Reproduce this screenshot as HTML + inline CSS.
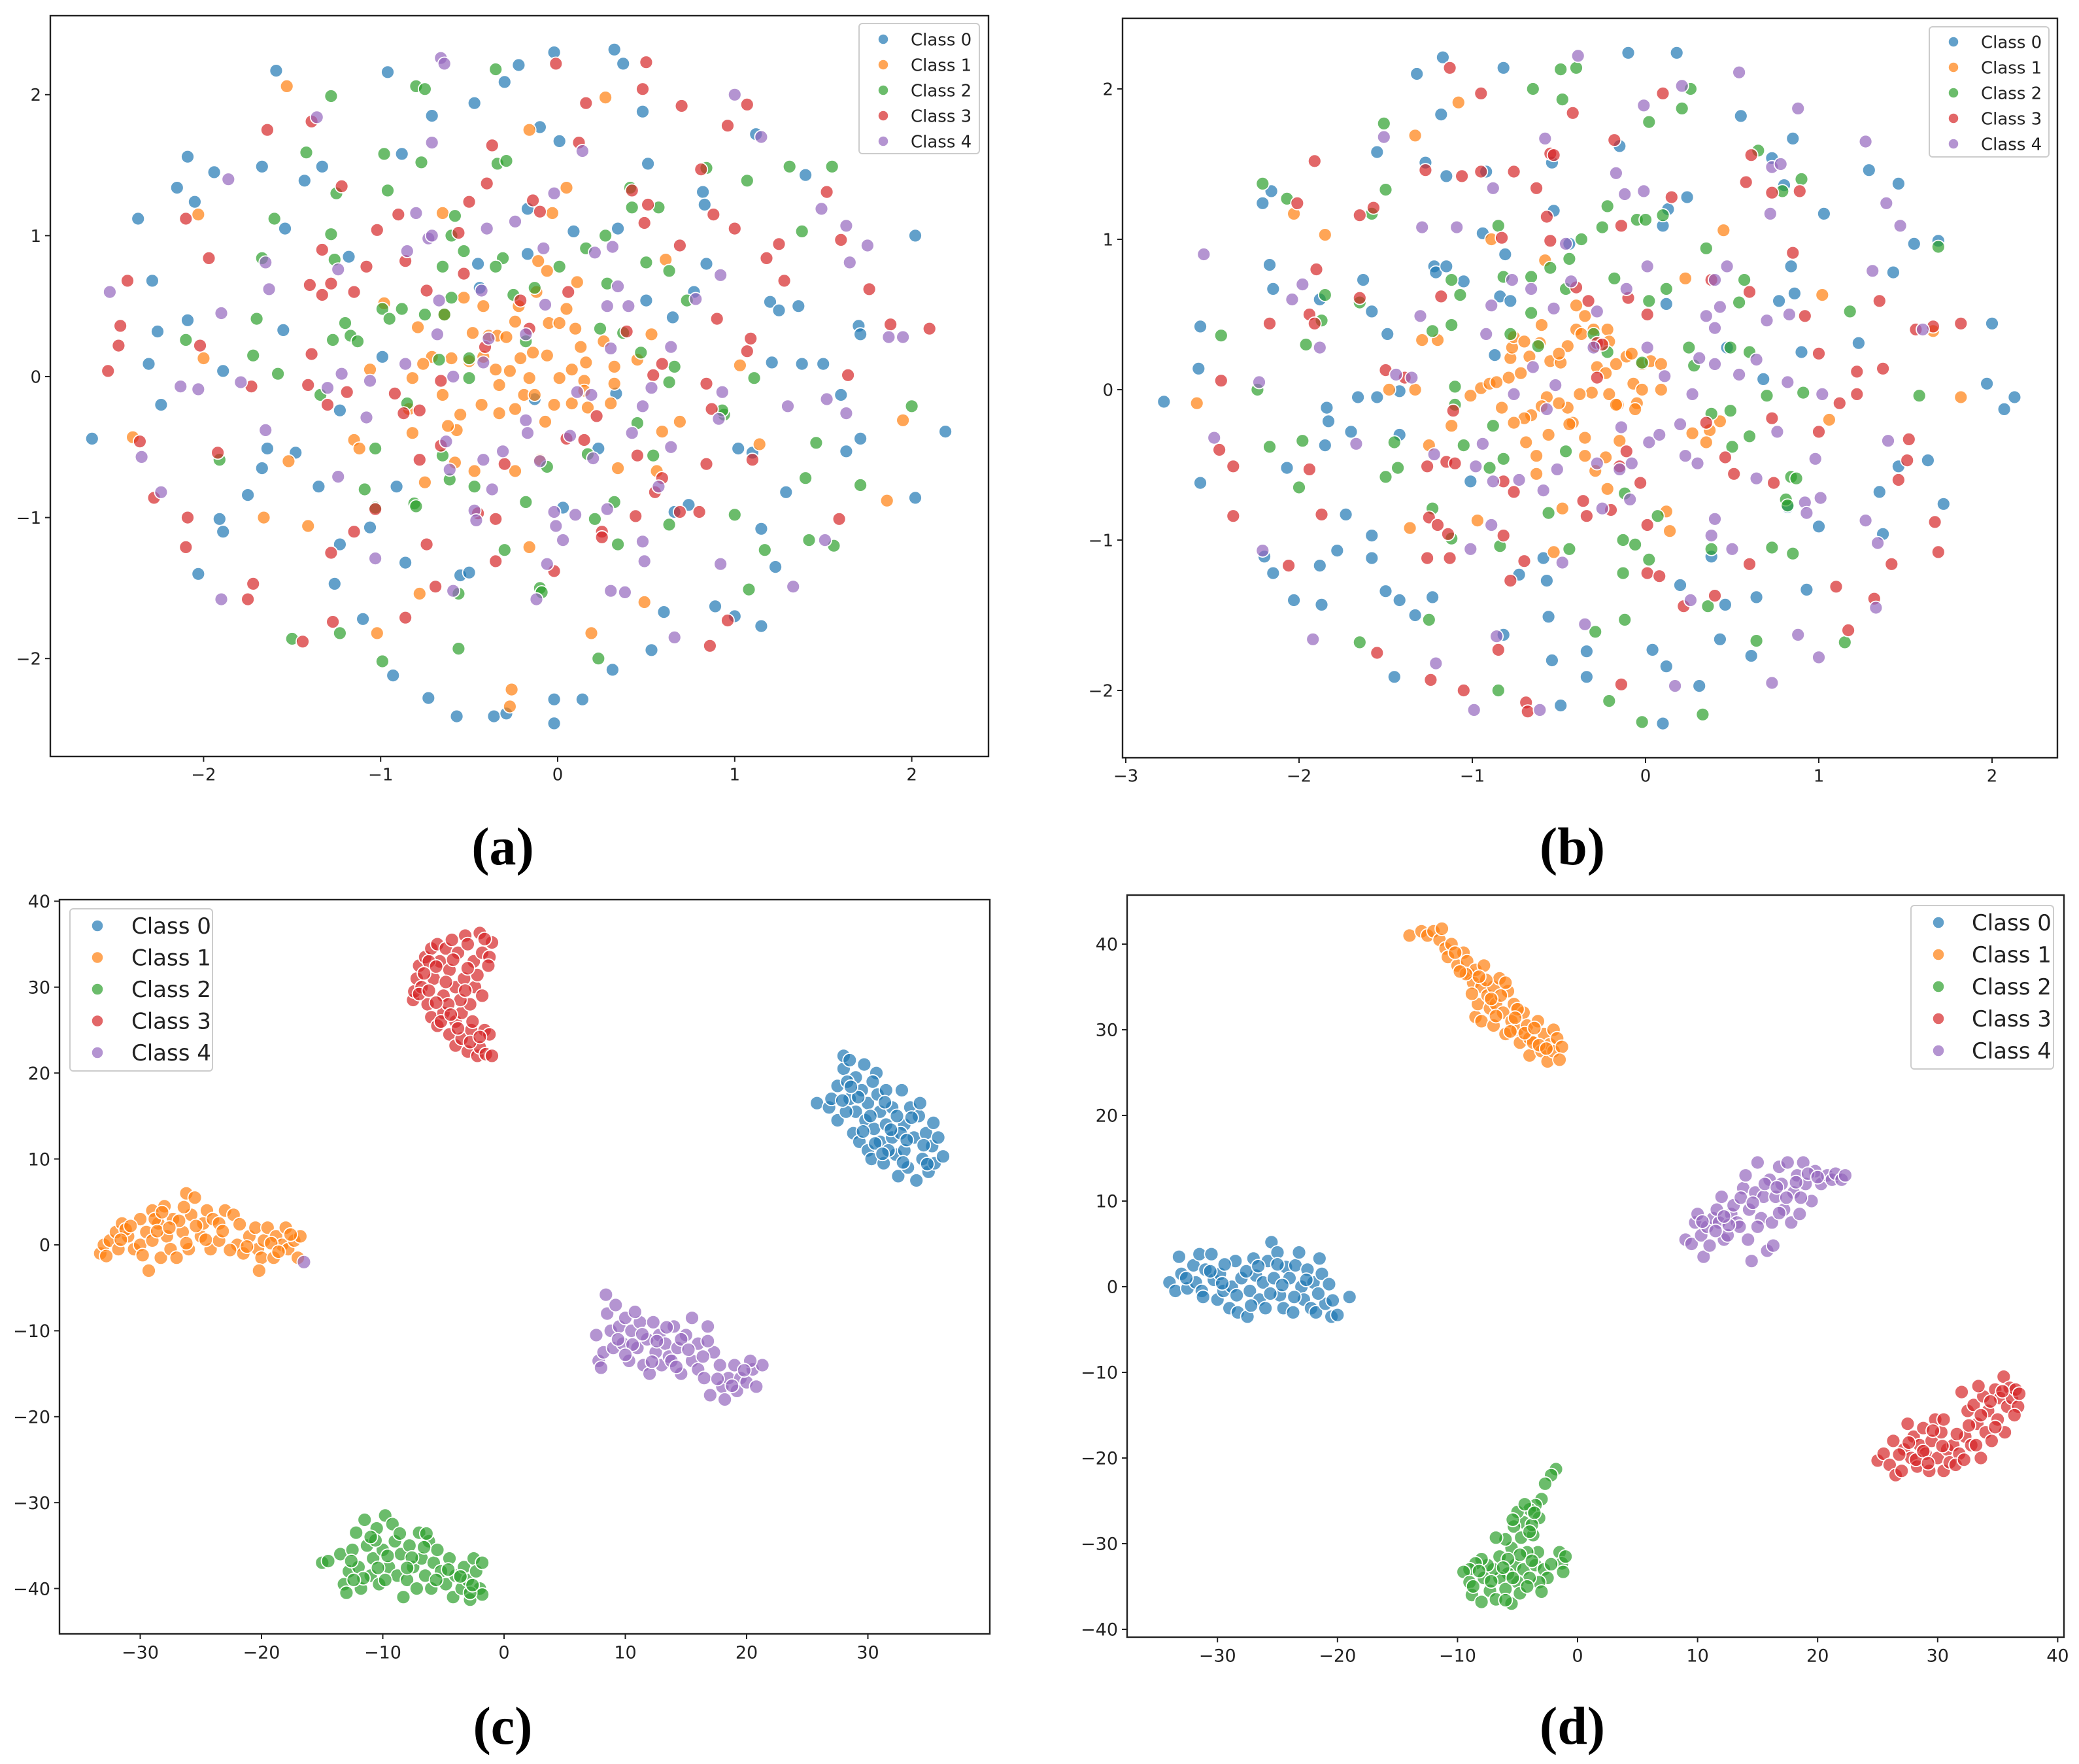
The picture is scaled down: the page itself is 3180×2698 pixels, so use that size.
<!DOCTYPE html>
<html><head><meta charset="utf-8"><style>
html,body{margin:0;padding:0;background:#fff;}
svg{display:block;}
</style></head><body>
<svg id="fig" width="3180" height="2698" viewBox="0 0 3180 2698" xmlns="http://www.w3.org/2000/svg">
<rect width="3180" height="2698" fill="#fff"/>
<text x="769" y="1322" font-family="Liberation Serif, serif" font-size="82" font-weight="bold" text-anchor="middle">(a)</text>
<text x="2405" y="1322" font-family="Liberation Serif, serif" font-size="82" font-weight="bold" text-anchor="middle">(b)</text>
<text x="769" y="2667" font-family="Liberation Serif, serif" font-size="82" font-weight="bold" text-anchor="middle">(c)</text>
<text x="2405" y="2667" font-family="Liberation Serif, serif" font-size="82" font-weight="bold" text-anchor="middle">(d)</text>
</svg>
<script>
const classNames = ["Class 0","Class 1","Class 2","Class 3","Class 4"];
const aTicksX = [-2,-1,0,1,2];
const aTicksY = [-2,-1,0,1,2];
const bTicksX = [-3,-2,-1,0,1,2];
const bTicksY = [-2,-1,0,1,2];
const cTicksX = [-30,-20,-10,0,10,20,30];
const cTicksY = [-40,-30,-20,-10,0,10,20,30,40];
const dTicksX = [-30,-20,-10,0,10,20,30,40];
const dTicksY = [-40,-30,-20,-10,0,10,20,30,40];

const a_class0 = [[-2.63,-0.44],[-2.37,1.12],[-2.29,0.68],[-2.26,0.32],[-2.31,0.09],[-2.24,-0.20],[-2.15,1.34],[-2.09,1.56],[-2.05,1.24],[-2.09,0.40],[-1.94,1.45],[-1.89,0.04],[-2.03,-1.40],[-1.91,-1.01],[-1.89,-1.10],[-1.75,-0.84],[-1.67,-0.65],[-1.64,-0.51],[-1.67,1.49],[-1.59,2.17],[-1.54,1.05],[-1.55,0.33],[-1.48,-0.54],[-1.33,1.49],[-1.43,1.39],[-1.35,-0.78],[-1.23,-0.24],[-1.18,0.85],[-1.26,-1.47],[-1.23,-1.19],[-1.10,-1.72],[-1.06,-1.07],[-0.99,0.14],[-0.96,2.16],[-0.88,1.58],[-0.91,-0.78],[-0.86,-1.32],[-0.93,-2.12],[-0.73,-2.28],[-0.71,1.85],[-0.57,-2.41],[-0.55,-1.41],[-0.50,-1.39],[-0.47,1.94],[-0.45,0.80],[-0.44,0.63],[-0.36,-2.41],[-0.30,2.09],[-0.29,-2.39],[-0.22,2.21],[-0.17,1.19],[-0.17,0.87],[-0.13,-0.16],[-0.10,1.77],[-0.02,2.30],[0.01,1.67],[-0.02,-2.29],[-0.02,-2.46],[0.03,-0.93],[0.09,1.03],[0.14,-2.29],[0.23,-0.51],[0.31,-2.08],[0.32,2.32],[0.33,-0.12],[0.34,1.05],[0.37,2.22],[0.48,1.88],[0.50,0.54],[0.51,1.51],[0.53,-1.94],[0.60,-1.67],[0.65,0.42],[0.66,-0.96],[0.74,-0.91],[0.77,0.60],[0.82,1.31],[0.83,1.22],[0.84,0.80],[0.89,-1.63],[1.00,-1.70],[1.02,-0.51],[1.10,-0.54],[1.15,-1.08],[1.15,-1.77],[1.12,1.72],[1.20,0.53],[1.21,0.10],[1.23,-1.35],[1.25,0.47],[1.29,-0.82],[1.36,0.50],[1.38,0.09],[1.40,1.43],[1.50,0.09],[1.60,-0.13],[1.63,-0.53],[1.70,0.36],[1.71,0.30],[1.71,-0.44],[2.02,1.00],[2.02,-0.86],[2.19,-0.39]];
const a_class1 = [[-1.53,2.06],[-2.03,1.15],[-2.00,0.13],[-2.40,-0.43],[-1.66,-1.00],[-1.41,-1.06],[-1.52,-0.60],[-1.02,-1.82],[-0.78,-1.54],[-0.75,-0.75],[-1.15,-0.45],[-1.12,-0.51],[-0.98,0.52],[-1.06,0.05],[-0.82,-0.01],[-0.79,0.35],[-0.65,1.16],[-0.16,1.75],[-0.03,1.16],[0.05,1.34],[0.27,1.98],[0.19,-1.82],[-0.26,-2.22],[-0.27,-2.34],[-0.16,-1.21],[0.49,-1.60],[0.34,-0.65],[0.56,-0.67],[0.69,-0.32],[0.59,-0.39],[0.61,0.83],[0.53,0.30],[0.45,0.12],[1.03,0.08],[1.14,-0.48],[1.95,-0.31],[1.86,-0.88],[0.11,0.67],[-0.11,0.82],[-0.06,0.75],[-0.71,0.14],[-0.64,0.44],[-0.53,0.56],[-0.48,0.31],[-0.42,0.50],[-0.39,0.29],[-0.34,0.29],[-0.29,0.28],[-0.24,0.39],[-0.22,0.50],[-0.12,0.60],[-0.05,0.38],[0.01,0.38],[0.05,0.48],[0.10,0.34],[0.13,0.21],[0.16,0.10],[0.26,0.25],[0.32,0.07],[0.15,-0.03],[0.08,0.05],[0.01,-0.01],[-0.06,0.15],[-0.14,0.17],[-0.21,0.13],[-0.27,0.04],[-0.35,0.05],[-0.42,0.14],[-0.50,0.11],[-0.60,0.13],[-0.76,0.09],[-0.65,-0.13],[-0.55,-0.27],[-0.57,-0.38],[-0.62,-0.35],[-0.43,-0.20],[-0.33,-0.26],[-0.24,-0.23],[-0.19,-0.13],[-0.13,-0.13],[-0.07,-0.32],[-0.02,-0.20],[0.08,-0.19],[0.17,-0.22],[0.15,-0.10],[0.32,-0.05],[0.30,-0.19],[-0.82,-0.40],[-0.84,-0.23],[-0.47,-0.67],[-0.24,-0.67],[-0.58,-0.61],[-0.10,-0.59],[-0.33,-0.06],[-0.16,-0.01]];
const a_class2 = [[-1.28,1.99],[-1.42,1.59],[-1.25,1.30],[-1.60,1.12],[-1.28,1.01],[-1.26,0.83],[-1.67,0.84],[-1.70,0.41],[-2.10,0.26],[-1.72,0.15],[-1.58,0.02],[-1.91,-0.59],[-1.34,-0.13],[-1.27,0.26],[-1.17,0.29],[-1.20,0.38],[-1.13,0.25],[-1.03,-0.51],[-1.09,-0.80],[-1.03,-0.93],[-1.23,-1.82],[-1.50,-1.86],[-0.99,-2.02],[-0.98,1.58],[-0.96,1.32],[-0.99,0.48],[-0.95,0.41],[-0.88,0.48],[-0.80,2.06],[-0.75,2.04],[-0.77,1.52],[-0.85,-0.19],[-0.81,-0.90],[-0.80,-0.92],[-0.65,-0.56],[-0.61,-0.73],[-0.56,-1.93],[-0.56,-1.54],[-0.58,1.14],[-0.60,1.00],[-0.53,0.89],[-0.65,0.78],[-0.60,0.56],[-0.64,0.44],[-0.75,0.44],[-0.67,0.12],[-0.50,0.13],[-0.50,-0.01],[-0.47,-0.78],[-0.35,2.18],[-0.34,1.51],[-0.29,1.53],[-0.31,0.84],[-0.35,0.78],[-0.25,0.58],[-0.13,0.63],[-0.18,0.25],[-0.18,-0.89],[-0.30,-1.23],[-0.10,-1.50],[-0.09,-1.53],[-0.06,-0.64],[0.01,0.78],[0.16,0.91],[0.27,1.00],[0.24,0.34],[0.17,-0.55],[0.21,-1.01],[0.23,-2.00],[0.34,-1.19],[0.32,-0.89],[0.42,1.20],[0.41,1.34],[0.28,0.66],[0.37,0.31],[0.47,0.17],[0.45,-0.33],[0.50,0.81],[0.57,1.20],[0.63,0.75],[0.66,0.07],[0.63,-0.04],[0.54,-0.56],[0.63,-1.05],[0.73,0.54],[0.84,1.48],[0.94,-0.27],[0.93,-0.24],[1.11,-0.01],[1.00,-0.98],[1.07,1.39],[1.08,-1.51],[1.17,-1.23],[1.31,1.49],[1.38,1.03],[1.42,-1.16],[1.46,-0.47],[1.55,1.49],[1.56,-1.20],[1.40,-0.72],[1.71,-0.77],[2.00,-0.21]];
const a_class3 = [[-2.54,0.04],[-2.48,0.22],[-2.47,0.36],[-2.43,0.68],[-2.36,-0.46],[-2.28,-0.86],[-2.10,1.12],[-1.97,0.84],[-2.02,0.22],[-2.09,-1.00],[-2.10,-1.21],[-1.92,-0.54],[-1.73,-0.07],[-1.72,-1.47],[-1.75,-1.58],[-1.64,1.75],[-1.39,1.81],[-1.40,0.65],[-1.39,0.16],[-1.41,-0.06],[-1.44,-1.88],[-1.33,0.90],[-1.33,0.58],[-1.28,0.66],[-1.22,1.35],[-1.15,0.60],[-1.19,-0.11],[-1.30,-0.20],[-1.28,-1.25],[-1.27,-1.74],[-1.15,-1.10],[-1.08,0.78],[-1.03,-0.94],[-1.02,1.04],[-0.92,-0.12],[-0.90,1.15],[-0.87,-0.26],[-0.86,-1.71],[-0.86,0.82],[-0.78,-0.24],[-0.78,-0.59],[-0.74,0.61],[-0.74,-1.19],[-0.69,-1.49],[-0.66,-0.03],[-0.66,-0.49],[-0.56,1.02],[-0.53,0.73],[-0.50,1.24],[-0.45,-0.97],[-0.41,0.21],[-0.40,1.37],[-0.37,1.64],[-0.35,-1.31],[-0.35,-1.01],[-0.30,-0.62],[-0.21,0.54],[-0.16,0.34],[-0.14,1.25],[-0.10,1.17],[-0.02,-1.38],[-0.01,2.22],[0.06,0.60],[0.05,-0.44],[0.12,1.66],[0.16,1.94],[0.15,-0.45],[0.22,-0.28],[0.25,-1.10],[0.25,-1.14],[0.39,0.32],[0.42,1.32],[0.44,-0.99],[0.45,-0.56],[0.48,2.04],[0.50,2.23],[0.49,1.09],[0.51,1.22],[0.54,0.01],[0.59,0.09],[0.59,-0.72],[0.55,-0.82],[0.69,0.93],[0.70,1.92],[0.69,-0.96],[0.80,-0.96],[0.81,1.47],[0.84,-0.05],[0.84,-0.62],[0.86,-1.91],[0.87,-0.23],[0.88,1.15],[0.90,0.41],[0.96,-1.73],[0.96,1.78],[1.00,1.05],[1.07,1.93],[1.09,0.27],[1.07,0.18],[1.10,-0.59],[1.18,0.84],[1.25,0.94],[1.28,0.68],[1.52,1.31],[1.60,0.97],[1.59,-1.01],[1.64,0.01],[1.76,0.62],[1.88,0.37],[2.10,0.34]];
const a_class4 = [[-2.53,0.60],[-2.35,-0.57],[-2.24,-0.82],[-2.13,-0.07],[-2.03,-0.09],[-1.90,0.45],[-1.90,-1.58],[-1.86,1.40],[-1.79,-0.04],[-1.65,-0.38],[-1.63,0.62],[-1.65,0.81],[-1.36,1.84],[-1.30,-0.08],[-1.24,0.76],[-1.24,-0.71],[-1.22,0.02],[-1.08,-0.29],[-1.06,-0.03],[-1.03,-1.29],[-0.86,0.09],[-0.85,0.89],[-0.80,1.16],[-0.73,0.98],[-0.71,1.00],[-0.71,1.66],[-0.68,0.30],[-0.67,0.54],[-0.66,2.26],[-0.64,2.22],[-0.59,0.00],[-0.63,-0.46],[-0.61,-0.66],[-0.59,-1.52],[-0.47,-0.95],[-0.46,-1.02],[-0.43,0.61],[-0.42,0.10],[-0.42,-0.59],[-0.40,1.05],[-0.39,0.27],[-0.37,-0.80],[-0.31,-0.53],[-0.24,1.10],[-0.18,-0.31],[-0.18,0.30],[-0.17,-0.40],[-0.12,-1.58],[-0.10,-0.60],[-0.08,0.91],[-0.07,0.51],[-0.06,-1.33],[-0.02,-0.96],[-0.02,1.30],[-0.01,-1.06],[0.03,-1.16],[0.07,-0.42],[0.10,-0.98],[0.11,-0.11],[0.14,1.60],[0.19,-0.13],[0.20,-0.58],[0.21,0.88],[0.28,0.50],[0.28,-0.94],[0.30,0.20],[0.30,-1.52],[0.31,0.92],[0.34,0.64],[0.38,-1.53],[0.40,0.50],[0.42,-0.40],[0.48,-0.21],[0.48,-1.17],[0.49,-1.31],[0.53,-0.08],[0.57,-0.78],[0.64,0.21],[0.64,-0.50],[0.66,-1.85],[0.78,0.55],[0.91,-0.30],[0.92,-1.33],[0.92,0.72],[0.93,-0.11],[1.00,2.00],[1.15,1.70],[1.30,-0.21],[1.33,-1.49],[1.49,1.19],[1.51,-1.16],[1.52,-0.16],[1.63,1.07],[1.63,-0.26],[1.65,0.81],[1.75,0.93],[1.87,0.28],[1.95,0.28]];

const b_class0 = [[-2.78,-0.08],[-2.58,0.14],[-2.57,0.42],[-2.57,-0.62],[-2.21,1.24],[-2.16,1.32],[-2.17,0.83],[-2.15,0.67],[-2.15,-1.22],[-2.20,-1.11],[-2.07,-0.52],[-2.03,-1.40],[-1.88,0.60],[-1.87,-1.43],[-1.88,-1.17],[-1.84,-0.12],[-1.83,-0.21],[-1.85,-0.37],[-1.78,-1.07],[-1.73,-0.83],[-1.70,-0.28],[-1.66,-0.05],[-1.63,0.73],[-1.58,0.52],[-1.55,1.58],[-1.55,-0.05],[-1.58,-0.97],[-1.58,-1.12],[-1.50,-1.34],[-1.49,0.37],[-1.45,-1.91],[-1.42,-0.30],[-1.42,-0.01],[-1.42,-1.40],[-1.33,-1.50],[-1.32,2.10],[-1.27,1.51],[-1.23,-1.38],[-1.22,0.82],[-1.21,0.78],[-1.18,1.83],[-1.17,2.21],[-1.15,1.42],[-1.15,0.82],[-1.05,0.72],[-1.01,-0.61],[-0.94,1.04],[-0.92,1.45],[-0.87,0.23],[-0.84,0.62],[-0.82,2.14],[-0.81,0.90],[-0.78,0.59],[-0.82,-1.63],[-0.73,-1.23],[-0.59,-1.12],[-0.57,-1.27],[-0.56,-1.51],[-0.54,-1.80],[-0.54,1.51],[-0.53,1.19],[-0.49,-2.10],[-0.34,-1.74],[-0.34,-1.91],[-0.44,0.97],[-0.15,1.62],[-0.10,2.24],[0.04,-1.73],[0.10,-2.22],[0.10,1.09],[0.12,0.57],[0.12,-1.84],[0.13,1.20],[0.18,2.24],[0.20,-1.30],[0.24,1.28],[0.31,-1.97],[0.38,-1.11],[0.43,-1.66],[0.46,-1.43],[0.47,0.28],[0.55,1.82],[0.61,-1.77],[0.64,-1.38],[0.68,0.07],[0.73,1.54],[0.77,0.59],[0.80,1.36],[0.82,-0.78],[0.84,0.82],[0.85,1.67],[0.86,0.64],[0.90,0.25],[0.93,-1.33],[1.00,-0.91],[1.03,1.17],[1.23,0.31],[1.29,1.46],[1.35,-0.68],[1.37,-0.96],[1.43,0.78],[1.46,1.37],[1.46,-0.51],[1.55,0.97],[1.63,-0.47],[1.69,0.99],[1.72,-0.76],[1.97,0.04],[2.00,0.44],[2.07,-0.13],[2.13,-0.05]];
const b_class1 = [[-2.59,-0.09],[-2.03,1.17],[-1.85,1.03],[-1.33,1.69],[-1.08,1.91],[-1.29,0.33],[-1.20,0.33],[-1.48,0.00],[-1.33,0.00],[-1.25,-0.37],[-1.36,-0.92],[-0.97,-0.87],[-0.89,1.00],[-0.58,0.86],[-0.60,0.43],[-0.53,-1.08],[-0.48,-0.79],[0.14,-0.94],[0.12,-0.81],[0.23,0.74],[0.45,1.06],[1.02,0.63],[1.06,-0.20],[1.66,0.39],[1.82,-0.05],[0.43,-0.21],[0.37,-0.27],[0.27,-0.29],[0.35,-0.35],[-1.01,-0.04],[-0.95,0.01],[-0.90,0.04],[-0.86,0.05],[-0.79,0.08],[-0.72,0.11],[-0.67,0.22],[-0.78,0.21],[-0.77,0.28],[-0.76,0.35],[-0.70,0.32],[-0.61,0.31],[-0.55,0.19],[-0.49,0.18],[-0.45,0.29],[-0.40,0.40],[-0.37,0.37],[-0.40,0.56],[-0.30,0.40],[-0.22,0.40],[-0.21,0.32],[-0.28,0.15],[-0.23,0.11],[-0.17,0.17],[-0.11,0.22],[-0.07,0.04],[-0.02,0.17],[0.03,0.19],[0.09,0.17],[0.09,0.00],[-0.02,0.00],[-0.05,-0.09],[-0.16,-0.10],[-0.21,-0.03],[-0.31,-0.02],[-0.38,-0.03],[-0.45,-0.12],[-0.50,-0.09],[-0.57,-0.05],[-0.60,-0.11],[-0.66,-0.17],[-0.70,-0.19],[-0.76,-0.22],[-0.83,-0.12],[-1.12,-0.24],[-0.69,-0.35],[-0.63,-0.44],[-0.56,-0.30],[-0.42,-0.22],[-0.35,-0.32],[-0.35,-0.44],[-0.23,-0.45],[-0.29,-0.54],[-0.22,-0.66],[-0.17,-0.10],[-0.06,-0.13],[-0.15,-0.34],[-0.63,-0.56],[-0.44,-0.23],[-0.29,0.29],[-0.50,0.24],[-0.35,0.49],[-0.08,0.24]];
const b_class2 = [[-2.21,1.37],[-2.07,1.27],[-2.45,0.36],[-2.24,0.00],[-2.17,-0.38],[-2.00,-0.65],[-1.96,0.30],[-1.98,-0.34],[-1.87,0.46],[-1.85,0.63],[-1.65,-1.68],[-1.65,0.58],[-1.58,1.17],[-1.51,1.77],[-1.50,1.33],[-1.50,-0.58],[-1.43,-0.52],[-1.45,-0.35],[-1.25,-1.53],[-1.23,-0.79],[-1.23,0.39],[-1.12,0.43],[-1.12,0.73],[-1.10,0.02],[-1.10,-0.10],[-1.07,0.63],[-1.05,-0.37],[-1.12,-0.99],[-0.90,-0.52],[-0.88,-0.24],[-0.85,1.09],[-0.82,0.75],[-0.84,-1.04],[-0.82,-0.46],[-0.85,-2.00],[-0.78,0.37],[-0.66,0.51],[-0.66,0.75],[-0.65,2.00],[-0.62,0.29],[-0.56,-0.82],[-0.55,0.81],[-0.49,2.13],[-0.48,1.93],[-0.46,-0.41],[-0.44,0.87],[-0.44,-1.06],[-0.40,2.14],[-0.37,1.00],[-0.46,0.67],[-0.30,0.37],[-0.29,-1.61],[-0.25,1.08],[-0.22,1.22],[-0.22,0.25],[-0.21,-2.07],[-0.18,0.74],[-0.13,-1.00],[-0.13,-1.22],[-0.12,-1.53],[-0.12,-0.69],[-0.06,-1.03],[-0.05,1.13],[-0.02,0.18],[-0.02,-2.21],[0.00,1.13],[0.02,1.78],[0.02,0.59],[0.02,-1.13],[0.07,-0.84],[0.10,1.16],[0.12,0.67],[0.21,1.87],[0.25,0.28],[0.26,2.00],[0.28,0.16],[0.33,-2.16],[0.35,0.94],[0.38,-1.06],[0.38,-0.16],[0.49,0.28],[0.49,-0.14],[0.50,-0.38],[0.54,0.58],[0.57,0.73],[0.60,0.25],[0.60,-0.31],[0.64,-1.67],[0.65,1.59],[0.70,-0.04],[0.73,-1.05],[0.79,1.32],[0.81,-0.73],[0.82,-0.77],[0.84,-0.58],[0.85,-1.09],[0.87,-0.59],[0.90,1.40],[0.91,-0.02],[1.15,-1.68],[1.18,0.52],[1.58,-0.04],[1.69,0.95],[0.36,-1.44]];
const b_class3 = [[-2.45,0.06],[-2.46,-0.40],[-2.38,-0.51],[-2.38,-0.84],[-2.17,0.44],[-2.06,-1.17],[-2.01,1.24],[-1.94,-0.53],[-1.94,0.50],[-1.91,1.52],[-1.91,0.44],[-1.90,0.80],[-1.87,-0.83],[-1.65,1.16],[-1.65,0.61],[-1.57,1.21],[-1.55,-1.75],[-1.50,0.13],[-1.39,0.08],[-1.27,1.46],[-1.26,-0.51],[-1.25,-0.85],[-1.26,-1.12],[-1.24,-1.93],[-1.20,-0.90],[-1.18,0.62],[-1.15,-0.48],[-1.14,-0.96],[-1.13,-1.12],[-1.13,2.14],[-1.11,-0.14],[-1.10,-0.49],[-1.06,1.42],[-1.05,-2.00],[-0.95,1.97],[-0.95,1.45],[-0.85,-1.73],[-0.83,1.01],[-0.82,-0.61],[-0.82,-0.97],[-0.78,-1.27],[-0.76,1.45],[-0.76,-0.68],[-0.70,-1.14],[-0.69,-2.08],[-0.68,-2.14],[-0.63,1.34],[-0.57,1.15],[-0.55,0.99],[-0.55,1.57],[-0.53,1.56],[-0.42,1.84],[-0.40,0.68],[-0.36,-0.74],[-0.34,-0.84],[-0.33,0.59],[-0.28,0.31],[-0.28,0.08],[-0.25,0.30],[-0.20,-0.80],[-0.18,1.66],[-0.15,-0.51],[-0.14,1.09],[-0.14,-1.96],[-0.11,-0.41],[-0.10,0.61],[-0.03,-0.62],[0.01,0.50],[0.01,-0.90],[0.01,-1.22],[0.08,-1.24],[0.10,1.97],[0.15,1.28],[0.22,-1.44],[0.35,-0.22],[0.38,0.73],[0.40,-1.37],[0.46,-0.45],[0.51,-0.56],[0.58,1.38],[0.60,0.65],[0.61,1.56],[0.60,-1.16],[0.73,1.31],[0.73,-0.19],[0.74,-0.62],[0.85,0.91],[0.89,1.32],[0.92,0.49],[1.00,0.24],[1.00,-0.28],[1.10,-1.31],[1.12,-0.09],[1.17,-1.60],[1.22,0.12],[1.22,-0.03],[1.32,-1.39],[1.35,0.59],[1.37,0.14],[1.42,-1.16],[1.46,-0.60],[1.51,-0.47],[1.52,-0.33],[1.56,0.40],[1.66,0.42],[1.67,-0.88],[1.69,-1.08],[1.82,0.44]];
const b_class4 = [[-2.55,0.90],[-2.49,-0.32],[-2.23,0.05],[-2.21,-1.07],[-2.04,0.60],[-1.98,0.70],[-1.92,-1.66],[-1.88,0.28],[-1.67,-0.36],[-1.51,1.68],[-1.44,0.10],[-1.35,0.08],[-1.30,0.49],[-1.29,1.08],[-1.22,-0.43],[-1.21,-1.82],[-1.09,1.08],[-1.01,-1.06],[-0.98,-0.51],[-0.99,-2.13],[-0.94,-0.36],[-0.92,0.37],[-0.89,0.56],[-0.88,-0.61],[-0.89,-0.90],[-0.88,1.34],[-0.86,-1.64],[-0.77,0.73],[-0.76,-0.03],[-0.73,-0.60],[-0.66,0.67],[-0.65,0.15],[-0.61,-2.13],[-0.59,-0.67],[-0.58,1.67],[-0.57,-0.13],[-0.53,0.54],[-0.52,0.03],[-0.51,-0.53],[-0.48,-1.15],[-0.46,0.97],[-0.43,0.72],[-0.39,2.22],[-0.35,-1.56],[-0.30,0.28],[-0.28,0.52],[-0.28,-0.49],[-0.25,-0.79],[-0.17,1.44],[-0.15,-0.53],[-0.14,-0.25],[-0.12,1.30],[-0.11,0.67],[-0.09,-0.73],[-0.08,-0.49],[-0.01,1.32],[-0.01,1.89],[0.01,0.82],[0.01,0.28],[0.02,-0.35],[0.08,-0.30],[0.11,0.09],[0.17,-1.97],[0.21,2.02],[0.20,-0.23],[0.23,-0.44],[0.26,-1.40],[0.27,-0.03],[0.30,-0.49],[0.31,0.21],[0.35,0.49],[0.38,-0.97],[0.40,-0.86],[0.40,0.41],[0.40,0.17],[0.40,0.73],[0.43,0.55],[0.47,0.82],[0.50,-1.06],[0.54,2.11],[0.54,0.10],[0.64,-0.59],[0.64,0.20],[0.70,0.46],[0.72,1.17],[0.73,-1.95],[0.73,1.48],[0.76,-0.28],[0.78,1.50],[0.83,0.50],[0.82,0.05],[0.88,-1.63],[0.88,1.87],[0.92,-0.75],[0.93,-0.82],[0.98,-0.46],[1.00,-1.78],[1.01,-0.72],[1.02,-0.03],[1.27,-0.87],[1.27,1.65],[1.31,0.79],[1.33,-1.45],[1.34,-1.02],[1.39,1.24],[1.40,-0.34],[1.47,1.09],[1.60,0.40]];

const c_class0 = [[25.8,16.5],[26.8,16],[27.5,14.5],[27.5,18.5],[28,20.5],[28,22],[28.5,21.5],[28.5,17],[28.8,13],[29,19.5],[29,15.5],[29.3,12],[29.5,18],[29.8,14.5],[30,16.5],[30,11],[30.3,10],[30.5,13.5],[30.8,17.5],[31,15.5],[31,12],[31.3,9.5],[31.5,18],[31.5,14],[32,16],[32,12.5],[32.3,10.5],[32.5,8],[32.8,18],[33,14],[33,11],[33.3,9],[33.5,16],[33.8,12.5],[34,7.5],[34.2,15],[34.5,10],[34.8,13],[35,8.5],[35.3,11.5],[35.5,9.5],[35.8,12.5],[36.2,10.3],[34.3,16.5],[30.7,20],[29.7,21],[28.3,19],[32.7,13],[31.7,11],[27,17],[28.2,15.5],[29.2,17.2],[30.2,15],[30.6,11.8],[31.4,16.6],[31.9,13.4],[32.4,15],[32.9,9.6],[33.6,14.8],[34.6,11.6],[35.4,14.2],[34.9,9.4],[33.2,12.2],[29.6,13.2],[28.6,18.4],[27.9,16.8],[30.4,19],[31.2,10.6]];
const c_class1 = [[-33.3,-1],[-33,0],[-32.5,0.5],[-32,1.5],[-31.8,-0.5],[-31.5,2.5],[-31,1],[-30.5,-0.5],[-30,3],[-30,0],[-29.5,1.5],[-29.3,-3],[-29,4],[-29,0.5],[-28.5,2.5],[-28.3,-1.5],[-28,4.5],[-27.8,1],[-27.5,-0.5],[-27.3,3],[-27,-1.5],[-26.5,1.5],[-26.2,6],[-26,-0.5],[-25.8,3.5],[-25.5,5.5],[-25,1],[-24.5,4],[-24.8,2.5],[-24.2,-0.5],[-24,3],[-23.5,0.5],[-23,4],[-22.3,3.5],[-22,0],[-21.5,-1],[-21,1],[-20.5,2],[-20.3,-0.5],[-20,-1.5],[-20.2,-3],[-19.8,0.5],[-19.5,2],[-19,-1.5],[-18.8,1],[-18.3,0],[-18,2],[-17.8,-0.5],[-17.3,0.5],[-16.8,1],[-17,-1.5],[-23.5,2.5],[-28.8,3],[-31.2,1.8],[-26.8,2.8],[-32.8,-1.3],[-31.6,0.6],[-30.8,2.2],[-29.8,-1.2],[-28.6,1.6],[-27.6,2],[-26.2,0.2],[-25.4,2.2],[-24.6,0.6],[-23.2,1.6],[-22.6,-0.6],[-21.2,-0.2],[-19.2,0.2],[-18.6,-0.8],[-17.6,1.2],[-21.8,2.4],[-26.4,4.4],[-28.2,3.8]];
const c_class2 = [[-15,-37],[-14.5,-36.8],[-13.5,-36],[-13.2,-39.5],[-13,-40.5],[-12.8,-38],[-12.5,-35.5],[-12.2,-33.5],[-12,-37.5],[-11.8,-40],[-11.5,-32],[-11.3,-35],[-11,-38.5],[-10.8,-36.5],[-10.5,-33],[-10.3,-39.5],[-10,-35.5],[-9.8,-31.5],[-9.5,-37.5],[-9.2,-32.5],[-9,-34.5],[-8.8,-38.5],[-8.5,-36],[-8.3,-41],[-8,-39],[-7.8,-35],[-7.5,-37.5],[-7.2,-40],[-7,-33.5],[-6.8,-36.5],[-6.5,-38.5],[-6.2,-34.5],[-6,-40],[-5.8,-37],[-5.5,-35.5],[-5.2,-38],[-4.8,-39.5],[-4.5,-36.5],[-4.2,-41],[-4,-38.5],[-3.5,-40],[-3.3,-37.5],[-3,-39],[-2.8,-41.3],[-2.5,-36.5],[-2.3,-38],[-2,-40],[-1.8,-37],[-1.8,-40.7],[-2.8,-40.5],[-12.6,-36.8],[-11.6,-38.8],[-10.6,-34.4],[-9.6,-36.2],[-8.6,-33.6],[-7.6,-36.4],[-6.6,-35.2],[-5.6,-39],[-4.6,-37.8],[-3.6,-38.6],[-2.6,-39.6],[-9.8,-39],[-11,-34],[-12.4,-39],[-8,-37.6],[-6.4,-33.6],[-10.4,-37.6]];
const c_class3 = [[-7.5,28.5],[-7.4,29.5],[-7.2,31],[-7,32.5],[-6.8,30],[-6.5,33.5],[-6.3,28],[-6,26.5],[-6,34.5],[-5.8,31],[-5.5,35],[-5.5,25.5],[-5.3,33],[-5,29],[-5,27],[-4.8,34.5],[-4.5,32],[-4.5,24.5],[-4.3,35.5],[-4,30],[-4,26],[-4,23.2],[-3.8,34],[-3.5,27],[-3.5,24],[-3.3,31],[-3.2,36],[-3,22.5],[-3,35],[-2.8,28],[-2.7,25],[-2.5,33],[-2.4,30],[-2.2,22],[-2,23],[-2,36.3],[-1.8,34],[-1.8,29],[-1.6,25],[-1.5,22.2],[-1.2,33.5],[-1.2,24.5],[-1,35.2],[-1,22],[-1.3,32.5],[-6.2,33],[-5.2,26],[-3.6,28.5],[-2.6,26],[-4.6,28],[-7,29.2],[-6.6,31.6],[-6.2,29.6],[-5.6,32.4],[-4.8,30.6],[-4.2,33.2],[-3.8,25.2],[-3.2,29.6],[-2.8,23.6],[-2.2,31.4],[-1.6,35.6],[-5.6,28.2],[-4.4,26.8],[-3,32.2],[-2,24.2]];
const c_class4 = [[7.6,-10.5],[7.8,-13.5],[8,-14.3],[8.2,-12.5],[8.5,-8],[8.8,-10],[9,-12],[9.2,-7],[9.5,-9.5],[9.8,-11.5],[10,-8.5],[10.3,-13.5],[10.5,-10],[11,-12],[11.2,-9],[11.5,-14],[11.8,-11],[12,-15],[12.3,-9],[12.5,-12.5],[12.8,-10.5],[13,-14],[13.3,-11.5],[13.6,-13],[14,-9.5],[14.3,-12],[14.6,-15],[15,-10.5],[15.5,-13.5],[15.5,-8.5],[16,-14.5],[16,-11.5],[16.5,-15.5],[16.8,-9.5],[17,-17.5],[17.3,-12.5],[17.8,-14],[18,-16.5],[18.2,-18],[18.5,-15.5],[19,-14],[19.2,-17],[19.5,-15.5],[20,-16],[20.5,-14.5],[20.8,-16.5],[21.3,-14],[20.3,-13.5],[10.8,-7.8],[13.8,-13.5],[8.4,-5.8],[-16.5,-2],[9.4,-11],[10.6,-11.6],[11.4,-10.4],[12.6,-11.2],[13.4,-9.6],[14.6,-11],[15.2,-12.2],[16.4,-13],[17.6,-15.6],[18.8,-16.4],[19.8,-14.6],[12.2,-13.6],[14.2,-14.2],[16.8,-11.2],[10,-12.8]];

const d_class0 = [[-34,0.5],[-33.5,-0.5],[-33.2,3.5],[-33,1.5],[-32.5,-0.2],[-32,2.5],[-31.8,0.5],[-31.5,3.8],[-31.3,-0.5],[-31,2],[-30.5,3.8],[-30.3,0.8],[-30,-1.5],[-29.8,1.5],[-29.5,-0.5],[-29,-2.5],[-28.8,0],[-28.5,3],[-28.3,-3],[-28,1],[-27.5,-3.5],[-27.3,-0.5],[-27,3.3],[-26.8,1.3],[-26.5,-1.5],[-26.2,0.5],[-26,-2.5],[-25.8,3],[-25.5,5.2],[-25.3,1],[-25,4],[-24.8,-1],[-24.5,-2.5],[-24.3,2.3],[-24,1],[-23.7,-3],[-23.5,2.5],[-23.2,4],[-23,0],[-22.8,-1.5],[-22.5,2],[-22.2,-2.5],[-22,0.5],[-21.8,-3],[-21.5,3.3],[-21.3,1.5],[-21,-2],[-20.5,-3.5],[-20,-3.3],[-19,-1.2],[-20.7,0.3],[-32.6,1],[-31.2,-1.2],[-30.6,1.8],[-29.4,2.6],[-28.4,-1],[-27.6,1.8],[-26.6,2.4],[-25.6,-0.8],[-24.6,0.2],[-23.6,-1.2],[-22.6,0.8],[-21.6,-0.8],[-20.4,-1.6],[-25,2.6],[-27.2,-2.2],[-29.6,0.4]];
const d_class1 = [[-14,41],[-13,41.5],[-12.5,41],[-12,41.5],[-11.5,40.5],[-11.3,41.8],[-11,39.5],[-10.8,38.5],[-10.5,40],[-10,37.5],[-9.5,39],[-9.2,38],[-9,36.5],[-8.7,35.5],[-8.5,37],[-8.5,31.5],[-8.3,33],[-8,35],[-8,31],[-7.8,37.5],[-7.5,34],[-7.3,32.5],[-7,35],[-7,30.5],[-6.8,33],[-6.5,36],[-6.2,32],[-6,29.5],[-5.8,34.5],[-5.5,31],[-5.3,33],[-5,30],[-4.8,28.5],[-4.5,32],[-4.2,30.5],[-4,27],[-4,29],[-3.7,28.5],[-3.3,31],[-3,27.5],[-2.8,29.5],[-2.5,26.3],[-2.3,28.3],[-2,30],[-2,27.5],[-1.7,29],[-1.3,28],[-1.5,26.5],[-6,35.5],[-9.3,36.5],[-10.2,39],[-9.8,36.8],[-8.8,34.2],[-7.6,35.8],[-6.8,31.6],[-6.4,34],[-5.6,29.8],[-5,32.4],[-4.4,29.6],[-3.6,30.2],[-3.2,28.2],[-2.6,27.8],[-7.2,33.6],[-8.2,36.2],[-5.2,31.4]];
const d_class2 = [[-1.8,-21.3],[-2.2,-22],[-2.7,-23],[-3,-24.8],[-3.5,-25.5],[-4,-26],[-4.5,-27.5],[-3.2,-27],[-5,-26.3],[-5.3,-28],[-4.7,-29.3],[-3.7,-29],[-3.3,-31],[-4.2,-31],[-5.5,-30.5],[-6,-29.5],[-6.8,-29.3],[-6.5,-31.5],[-5.2,-32.5],[-4.5,-33],[-3.5,-32.5],[-2.8,-33],[-1.5,-31],[-1.3,-32.3],[-1.2,-33.3],[-1,-31.5],[-2.5,-34],[-3.2,-34.5],[-4,-34],[-5,-34.5],[-5.8,-33.5],[-6.5,-34],[-7,-33],[-7.5,-32.5],[-8,-31.8],[-8.5,-32.3],[-9,-33],[-9.5,-33.3],[-9,-34.5],[-8.8,-36],[-8,-36.8],[-7.3,-35.5],[-6.8,-36.5],[-6,-35.3],[-5.5,-37],[-4.8,-35.8],[-7.8,-34],[-8.7,-35],[-3.8,-27.8],[-4.8,-31.3],[-4.4,-25.4],[-3.6,-26.4],[-5.4,-27.2],[-4,-28.6],[-5.8,-31.8],[-3.8,-32],[-6.2,-32.8],[-4.2,-35],[-7.2,-34.4],[-8.2,-33.2],[-6,-36.6],[-2.2,-32.4],[-3,-35.6],[-5.4,-34]];
const d_class3 = [[25,-20.3],[25.5,-19.5],[26,-20.8],[26.3,-18],[26.5,-22],[27,-21.5],[27.2,-19],[27.5,-16],[27.8,-20],[28,-17.5],[28.3,-21],[28.5,-18.5],[28.8,-16.5],[29,-19.5],[29.3,-21.5],[29.5,-18],[29.8,-15.5],[30,-20],[30.3,-17],[30.5,-21.5],[30.8,-19],[31,-20.5],[31.3,-18.5],[31.8,-19.5],[32,-12.3],[32.3,-17.5],[32.5,-14.5],[32.8,-18.5],[33,-13.8],[33.3,-16],[33.6,-20],[33.8,-12.8],[34,-17],[34.2,-14.5],[34.5,-18],[34.8,-12],[35,-15.5],[35.2,-13],[35.5,-10.5],[35.6,-17],[35.8,-14],[36,-11.8],[36.2,-13],[36.5,-12],[36.7,-14],[36.8,-12.5],[31.5,-20.8],[28.2,-20.2],[33.2,-18.5],[30.5,-15.5],[26.8,-19.6],[27.6,-18.2],[28.8,-19.2],[29.6,-16.8],[30.4,-18.6],[31.6,-17.2],[32.6,-16.2],[33.6,-15],[34.4,-13.4],[35.4,-12.2],[36.4,-15],[34.8,-16.4],[29.2,-20.6],[32.2,-20.2],[33.4,-11.6]];
const d_class4 = [[9,5.5],[9.5,5],[9.8,7.5],[10,8.5],[10.3,6],[10.5,3.5],[10.8,7],[11,4.8],[11.3,8],[11.8,7.5],[12,10.5],[12.2,5.5],[12.5,6],[12.8,8.5],[13,9.5],[13.3,7.5],[13.8,11.5],[14,13],[14.3,9],[14.5,3],[14.8,11],[15,14.5],[15.3,8],[15.5,10.5],[15.8,4.2],[16,12.5],[16.3,4.8],[16.5,10.5],[16.8,14],[17,12],[17.2,9],[17.5,14.5],[17.8,7.5],[18,11],[18.3,13],[18.5,8.5],[18.8,14.5],[19,12],[19.5,10],[19.8,13.5],[20.3,12],[20.8,13],[21.2,12.5],[21.5,13.2],[22,12.5],[22.3,13],[16.2,7.5],[13.5,7],[11.5,6.5],[14.2,5.5],[10.4,7.6],[11.6,9],[12.6,7.2],[13.6,10.4],[14.6,9.8],[15.6,12],[16.6,11.6],[17.4,10.4],[18.2,12.2],[19.2,13.2],[20,12.8],[15,7],[12.2,8.2],[16.8,8.6],[18.6,10.4]];

const COLORS = ["#1f77b4","#ff7f0e","#2ca02c","#d62728","#9467bd"];
const NS = "http://www.w3.org/2000/svg";
const svg = document.getElementById("fig");
function mk(tag, attrs, parent){
  const e = document.createElementNS(NS, tag);
  for (const k in attrs) e.setAttribute(k, attrs[k]);
  (parent||svg).appendChild(e);
  return e;
}
const FONT = "DejaVu Sans, Liberation Sans, sans-serif";

function panel(id, box, xs, ys, ticksX, ticksY, series, leg, tickFont, r){
  const g = mk("g", {});
  
  
  const sx = v => xs.origin + v * xs.scale;
  const sy = v => ys.origin - v * ys.scale;
  const pts = mk("g", {}, g);
  
  
  series.forEach((arr, ci) => {
    arr.forEach(p => {
      const c = mk("circle", {cx: sx(p[0]).toFixed(1), cy: sy(p[1]).toFixed(1), r: r, fill: COLORS[ci], "fill-opacity": 0.7, stroke: "#fff", "stroke-width": 1.8}, pts);
      
      
    });
  });
  const frame = mk("rect", {x: box.l, y: box.t, width: box.r - box.l, height: box.b - box.t, fill: "none", stroke: "#222", "stroke-width": 2.4}, g);
  
  
  ticksX.forEach(v => {
    const x = sx(v);
    const t = mk("line", {x1: x, y1: box.b, x2: x, y2: box.b + 8, stroke: "#222", "stroke-width": 2}, g);
    
    
    const tx = mk("text", {x: x, y: box.b + 8 + tickFont*1.1, "font-family": FONT, "font-size": tickFont, fill: "#222", "text-anchor": "middle"}, g);
    
    
    tx.textContent = (v < 0 ? "\u2212" + Math.abs(v) : String(v));
  });
  ticksY.forEach(v => {
    const y = sy(v);
    const t = mk("line", {x1: box.l - 8, y1: y, x2: box.l, y2: y, stroke: "#222", "stroke-width": 2}, g);
    
    
    const tx = mk("text", {x: box.l - 14, y: y + tickFont*0.36, "font-family": FONT, "font-size": tickFont, fill: "#222", "text-anchor": "end"}, g);
    
    
    tx.textContent = (v < 0 ? "\u2212" + Math.abs(v) : String(v));
  });
  const lg = mk("g", {}, g);
  
  
  const lr = mk("rect", {x: leg.x, y: leg.y, width: leg.w, height: leg.h, rx: 5, fill: "#fff", "fill-opacity": 0.8, stroke: "#ccc", "stroke-width": 2}, lg);
  
  
  classNames.forEach((n, i) => {
    const y = leg.y0 + i * leg.dy;
    const m = mk("circle", {cx: leg.mx, cy: y, r: leg.mr, fill: COLORS[i], "fill-opacity": 0.7, stroke: "#fff", "stroke-width": 1.5}, lg);
    
    
    const t = mk("text", {x: leg.tx, y: y + leg.fs*0.36, "font-family": FONT, "font-size": leg.fs, fill: "#222"}, lg);
    
    
    t.textContent = n;
  });
}

panel("a", {l:77, r:1512, t:24, b:1157}, {origin:853, scale:270.8}, {origin:576, scale:215.6}, aTicksX, aTicksY,
  [a_class0,a_class1,a_class2,a_class3,a_class4],
  {x:1314, y:36, w:184, h:199, y0:60, dy:39, mx:1351, mr:8, tx:1393, fs:26}, 26, 10);
panel("b", {l:1717, r:3147, t:28, b:1159}, {origin:2517, scale:265}, {origin:596, scale:230}, bTicksX, bTicksY,
  [b_class0,b_class1,b_class2,b_class3,b_class4],
  {x:2951, y:41, w:183, h:199, y0:64, dy:39, mx:2988, mr:8, tx:3030, fs:26}, 26, 10);
panel("c", {l:91, r:1514, t:1376, b:2499}, {origin:771, scale:18.55}, {origin:1904, scale:13.14}, cTicksX, cTicksY,
  [c_class0,c_class1,c_class2,c_class3,c_class4],
  {x:107, y:1390, w:218, h:248, y0:1416, dy:48.5, mx:149, mr:9, tx:201, fs:34}, 27, 10.5);
panel("d", {l:1724, r:3157, t:1369, b:2504}, {origin:2413, scale:18.36}, {origin:1968, scale:13.1}, dTicksX, dTicksY,
  [d_class0,d_class1,d_class2,d_class3,d_class4],
  {x:2923, y:1385, w:218, h:250, y0:1411, dy:49, mx:2965, mr:9, tx:3016, fs:34}, 27, 10.5);
</script>
</body></html>
